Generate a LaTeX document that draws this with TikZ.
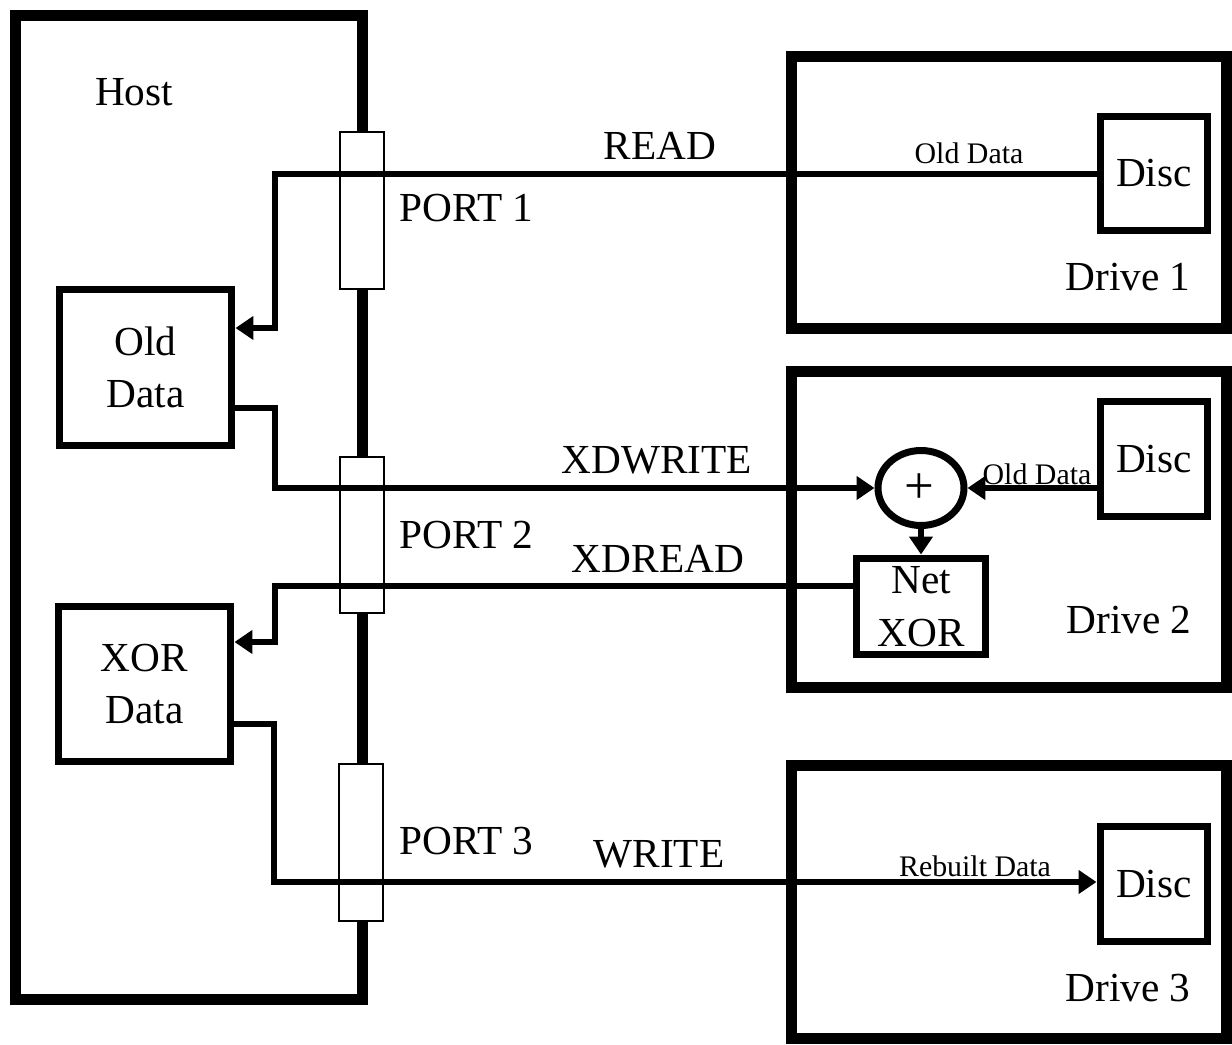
\documentclass[tikz,border=0pt]{standalone}
\usepackage{fontspec}
\setmainfont{Liberation Serif}
\usetikzlibrary{arrows.meta,shapes.geometric}
\begin{document}
\begin{tikzpicture}[x=0.02cm,y=-0.02cm,
  heavy/.style={draw, line width=0.22cm, inner sep=0pt},
  box/.style={draw, line width=0.14cm, inner sep=0pt},
  portbox/.style={draw, fill=white, line width=0.04cm, minimum width=0.88cm, minimum height=3.14cm, inner sep=0pt},
  conn/.style={line width=0.12cm},
  arr/.style={-{Triangle[length=0.36cm,width=0.46cm]}},
  big/.style={font=\fontsize{23.5pt}{30pt}\selectfont, align=center, inner sep=0pt},
  small/.style={font=\fontsize{17pt}{20pt}\selectfont, inner sep=0pt},
]
\useasboundingbox (0,0) rectangle (1232,1045);

% Host
\node[heavy, minimum width=6.96cm, minimum height=19.7cm] (host) at (189,507.5) {};
\node[big] (hostlbl) at (134,92) {Host};

% ports
\node[portbox] (port1) at (362,210.5) {};
\node[portbox] (port2) at (362,535) {};
\node[portbox] (port3) at (361,842.5) {};
\node[big, anchor=west] (p1lbl) at (399,208) {PORT 1};
\node[big, anchor=west] (p2lbl) at (399,535) {PORT 2};
\node[big, anchor=west] (p3lbl) at (399,841) {PORT 3};

% host buffers
\node[box, big, minimum width=3.46cm, minimum height=3.14cm] (old) at (145.5,367.5) {Old\\Data};
\node[box, big, minimum width=3.46cm, minimum height=3.12cm] (xorbox) at (144.5,684) {XOR\\Data};

% drives
\node[heavy, minimum width=8.72cm, minimum height=5.46cm] (drive1) at (1009,192.5) {};
\node[heavy, minimum width=8.72cm, minimum height=6.34cm] (drive2) at (1009,529.5) {};
\node[heavy, minimum width=8.72cm, minimum height=5.48cm] (drive3) at (1009,902) {};
\node[big] (d1lbl) at (1128,277) {Drive 1};
\node[big] (d2lbl) at (1129,620) {Drive 2};
\node[big] (d3lbl) at (1128,988) {Drive 3};

% discs
\node[box, big, minimum width=2.16cm, minimum height=2.3cm] (disc1) at (1154,173.5) {Disc};
\node[box, big, minimum width=2.16cm, minimum height=2.32cm] (disc2) at (1154,459) {Disc};
\node[box, big, minimum width=2.16cm, minimum height=2.32cm] (disc3) at (1154,884) {Disc};

% xor circle and net xor
\node[draw, ellipse, line width=0.14cm, minimum width=1.72cm, minimum height=1.5cm, inner sep=0pt] (circ) at (921,488) {};
\node[font=\fontsize{30pt}{32pt}\selectfont, inner sep=0pt] (plus) at (919,489) {+};
\node[box, big, minimum width=2.6cm, minimum height=1.94cm] (net) at (921,606.5) {Net\\XOR};

% connectors
\draw[conn,arr] (disc1.west) -| (275,328) -- (old.east |- 0,328);
\draw[conn,arr] (old.east |- 0,408) -| (275,488) -- (circ.west);
\draw[conn,arr] (disc2.west |- circ.east) -- (circ.east);
\draw[conn,arr] (circ.south) -- (net.north);
\draw[conn,arr] (net.west |- 0,586) -| (275,642) -- (xorbox.east |- 0,642);
\draw[conn,arr] (xorbox.east |- 0,724) -| (274,882) -- (disc3.west |- 0,882);

% connector labels
\node[big] (readlbl) at (660,146) {READ};
\node[big] (xdwlbl) at (657,460) {XDWRITE};
\node[big] (xdrlbl) at (658,559) {XDREAD};
\node[big] (wrlbl) at (659,854) {WRITE};
\node[small] (old1lbl) at (969,153) {Old Data};
\node[small] (old2lbl) at (1037,474) {Old Data};
\node[small] (reblbl) at (975,866) {Rebuilt Data};
\end{tikzpicture}
\end{document}
